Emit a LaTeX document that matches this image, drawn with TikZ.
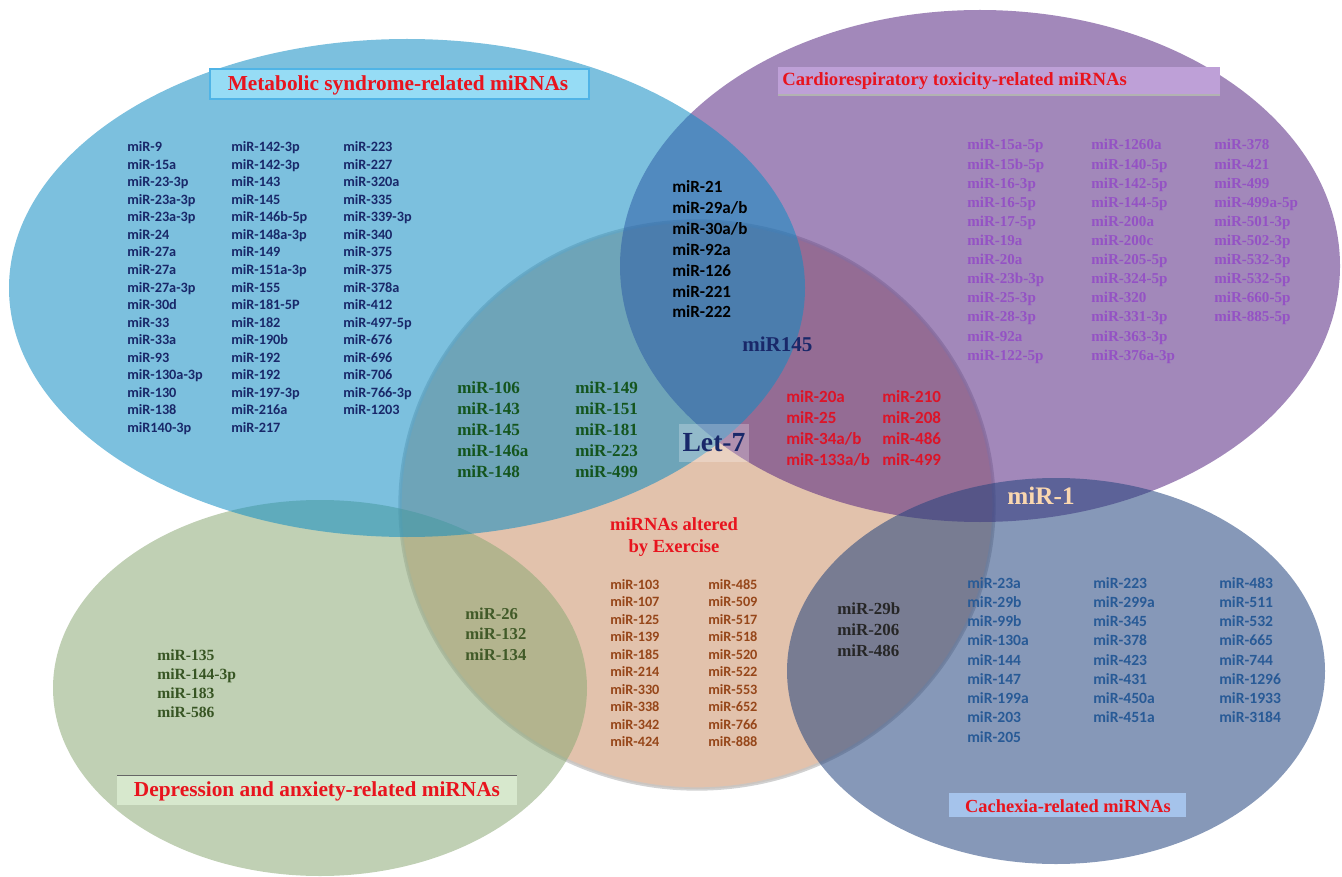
\documentclass[tikz,border=0pt]{standalone}
\usepackage{fontspec}
\usepackage{tikz}
\setmainfont{Liberation Serif}
\newfontfamily\calibrifont{Carlito}
\definecolor{metblue}{RGB}{16,140,195}
\definecolor{cardpurple}{RGB}{85,38,129}
\definecolor{exepeach}{RGB}{202,144,104}
\definecolor{depgreen}{RGB}{140,169,118}
\definecolor{cachblue}{RGB}{35,67,125}
\definecolor{titred}{RGB}{232,20,30}
\definecolor{metnavy}{RGB}{25,40,105}
\definecolor{cardtext}{RGB}{148,82,196}
\definecolor{greentext}{RGB}{20,85,30}
\definecolor{olivetext}{RGB}{65,90,40}
\definecolor{deptext}{RGB}{55,85,35}
\definecolor{redtext}{RGB}{220,20,40}
\definecolor{browntext}{RGB}{150,70,25}
\definecolor{cachtext}{RGB}{40,90,150}
\definecolor{mirone}{RGB}{250,215,175}
\definecolor{metbox}{RGB}{150,220,245}
\definecolor{metedge}{RGB}{80,180,230}
\definecolor{cardbox}{RGB}{190,160,215}
\definecolor{depbox}{RGB}{215,232,205}
\definecolor{cachbox}{RGB}{165,195,235}

\begin{document}
\begin{tikzpicture}[x=0.75pt, y=-0.75pt,
    set/.style={fill opacity=0.55},
    lst/.style={inner sep=0pt, anchor=base west},
    sanslist/.style={lst, font=\calibrifont\bfseries\fontsize{#1}{#1}\selectfont},
    serlist/.style={lst, font=\bfseries\fontsize{#1}{#1}\selectfont},
    titletext/.style={inner sep=0pt, text=titred, font=\bfseries\fontsize{#1}{#1}\selectfont}]
    \useasboundingbox (0,0) rectangle (1342,877);

    % Sets
    \fill[set, fill=exepeach, draw=gray!45, draw opacity=0.8, line width=2.5pt] (697,505) ellipse [x radius=297, y radius=284];
    \fill[set, fill=depgreen] (320,688) ellipse [x radius=267, y radius=188];
    \fill[set, fill=cardpurple] (980,266) ellipse [x radius=360, y radius=256];
    \fill[set, fill=metblue] (407,288) ellipse [x radius=398, y radius=249];
    \fill[set, fill=cachblue] (1056,671) ellipse [x radius=269, y radius=193];

    % Titles
    \filldraw[fill=metbox, draw=metedge, line width=1pt] (210,69) rectangle (589,99);
    \node[titletext=16] (mstitle) at (398,85) {Metabolic syndrome-related miRNAs};
    \fill[cardbox] (778,67) rectangle (1220,94);
    \draw[gray!60, line width=1pt] (778,95) -- (1220,95);
    \node[titletext=14, anchor=west] (crtitle) at (782,81) {Cardiorespiratory toxicity-related miRNAs};
    \fill[depbox] (117,775) rectangle (517,805);
    \draw[gray!80!black, line width=0.6pt] (117,775) -- (517,775);
    \node[titletext=16] (dptitle) at (317,791) {Depression and anxiety-related miRNAs};
    \fill[cachbox] (949,793) rectangle (1186,817);
    \node[titletext=13.8] (cxtitle) at (1068,806) {Cachexia-related miRNAs};
    \node[titletext=13.9, align=center] (extitle) at (674,537) {miRNAs altered\\[2pt]by Exercise};

    % Metabolic syndrome
    \foreach \m [count=\i] in {miR-9,miR-15a,miR-23-3p,miR-23a-3p,miR-23a-3p,miR-24,miR-27a,miR-27a,miR-27a-3p,miR-30d,miR-33,miR-33a,miR-93,miR-130a-3p,miR-130,miR-138,miR140-3p}
        \node[sanslist=10.7, text=metnavy] (ms1-\i) at (127,152+17.5*\i-17.5) {\m};
    \foreach \m [count=\i] in {miR-142-3p,miR-142-3p,miR-143,miR-145,miR-146b-5p,miR-148a-3p,miR-149,miR-151a-3p,miR-155,miR-181-5P,miR-182,miR-190b,miR-192,miR-192,miR-197-3p,miR-216a,miR-217}
        \node[sanslist=10.7, text=metnavy] (ms2-\i) at (231,152+17.5*\i-17.5) {\m};
    \foreach \m [count=\i] in {miR-223,miR-227,miR-320a,miR-335,miR-339-3p,miR-340,miR-375,miR-375,miR-378a,miR-412,miR-497-5p,miR-676,miR-696,miR-706,miR-766-3p,miR-1203}
        \node[sanslist=10.7, text=metnavy] (ms3-\i) at (343,152+17.5*\i-17.5) {\m};

    % Cardiorespiratory toxicity
    \foreach \m [count=\i] in {miR-15a-5p,miR-15b-5p,miR-16-3p,miR-16-5p,miR-17-5p,miR-19a,miR-20a,miR-23b-3p,miR-25-3p,miR-28-3p,miR-92a,miR-122-5p}
        \node[serlist=11.3, text=cardtext] (cr1-\i) at (967,150+19.1*\i-19.1) {\m};
    \foreach \m [count=\i] in {miR-1260a,miR-140-5p,miR-142-5p,miR-144-5p,miR-200a,miR-200c,miR-205-5p,miR-324-5p,miR-320,miR-331-3p,miR-363-3p,miR-376a-3p}
        \node[serlist=11.3, text=cardtext] (cr2-\i) at (1091,150+19.1*\i-19.1) {\m};
    \foreach \m [count=\i] in {miR-378,miR-421,miR-499,miR-499a-5p,miR-501-3p,miR-502-3p,miR-532-3p,miR-532-5p,miR-660-5p,miR-885-5p}
        \node[serlist=11.3, text=cardtext] (cr3-\i) at (1214,150+19.1*\i-19.1) {\m};

    % Metabolic and cardiorespiratory
    \foreach \m [count=\i] in {miR-21,miR-29a/b,miR-30a/b,miR-92a,miR-126,miR-221,miR-222}
        \node[sanslist=12.8, text=black] (mc-\i) at (672,193+20.8*\i-20.8) {\m};
    \node[serlist=15.8, text=metnavy] (mir145) at (742,351) {miR145};

    % Metabolic and exercise
    \foreach \m [count=\i] in {miR-106,miR-143,miR-145,miR-146a,miR-148}
        \node[serlist=12.8, text=greentext] (me1-\i) at (457,393+21*\i-21) {\m};
    \foreach \m [count=\i] in {miR-149,miR-151,miR-181,miR-223,miR-499}
        \node[serlist=12.8, text=greentext] (me2-\i) at (575,393+21*\i-21) {\m};

    % Cardiorespiratory and exercise
    \foreach \m [count=\i] in {miR-20a,miR-25,miR-34a/b,miR-133a/b}
        \node[sanslist=12.8, text=redtext] (ce1-\i) at (786,402+21*\i-21) {\m};
    \foreach \m [count=\i] in {miR-210,miR-208,miR-486,miR-499}
        \node[sanslist=12.8, text=redtext] (ce2-\i) at (882,402+21*\i-21) {\m};

    % Let-7
    \node[fill=white, fill opacity=0.25, text opacity=1, text=metnavy, minimum width=53pt, minimum height=28pt, inner sep=0pt, font=\bfseries\fontsize{20.7}{20.7}\selectfont] (let7) at (714,443) {Let-7};

    % Exercise
    \foreach \m [count=\i] in {miR-103,miR-107,miR-125,miR-139,miR-185,miR-214,miR-330,miR-338,miR-342,miR-424}
        \node[sanslist=10.7, text=browntext] (ex1-\i) at (610,589+17.5*\i-17.5) {\m};
    \foreach \m [count=\i] in {miR-485,miR-509,miR-517,miR-518,miR-520,miR-522,miR-553,miR-652,miR-766,miR-888}
        \node[sanslist=10.7, text=browntext] (ex2-\i) at (708,589+17.5*\i-17.5) {\m};

    % Depression and exercise
    \foreach \m [count=\i] in {miR-26,miR-132,miR-134}
        \node[serlist=12.5, text=olivetext] (de-\i) at (465,619+20.5*\i-20.5) {\m};

    % Depression and anxiety
    \foreach \m [count=\i] in {miR-135,miR-144-3p,miR-183,miR-586}
        \node[serlist=11.7, text=deptext] (dp-\i) at (157,660+19*\i-19) {\m};

    % Cachexia and exercise
    \foreach \m [count=\i] in {miR-29b,miR-206,miR-486}
        \node[serlist=12.7, text=black!85] (cx0-\i) at (837,614+21*\i-21) {\m};
    \node[serlist=18.9, text=mirone, anchor=base] (mir1) at (1041,504) {miR-1};

    % Cachexia
    \foreach \m [count=\i] in {miR-23a,miR-29b,miR-99b,miR-130a,miR-144,miR-147,miR-199a,miR-203,miR-205}
        \node[sanslist=11.7, text=cachtext] (cx1-\i) at (967,588+19.25*\i-19.25) {\m};
    \foreach \m [count=\i] in {miR-223,miR-299a,miR-345,miR-378,miR-423,miR-431,miR-450a,miR-451a}
        \node[sanslist=11.7, text=cachtext] (cx2-\i) at (1093,588+19.25*\i-19.25) {\m};
    \foreach \m [count=\i] in {miR-483,miR-511,miR-532,miR-665,miR-744,miR-1296,miR-1933,miR-3184}
        \node[sanslist=11.7, text=cachtext] (cx3-\i) at (1219,588+19.25*\i-19.25) {\m};
\end{tikzpicture}
\end{document}
